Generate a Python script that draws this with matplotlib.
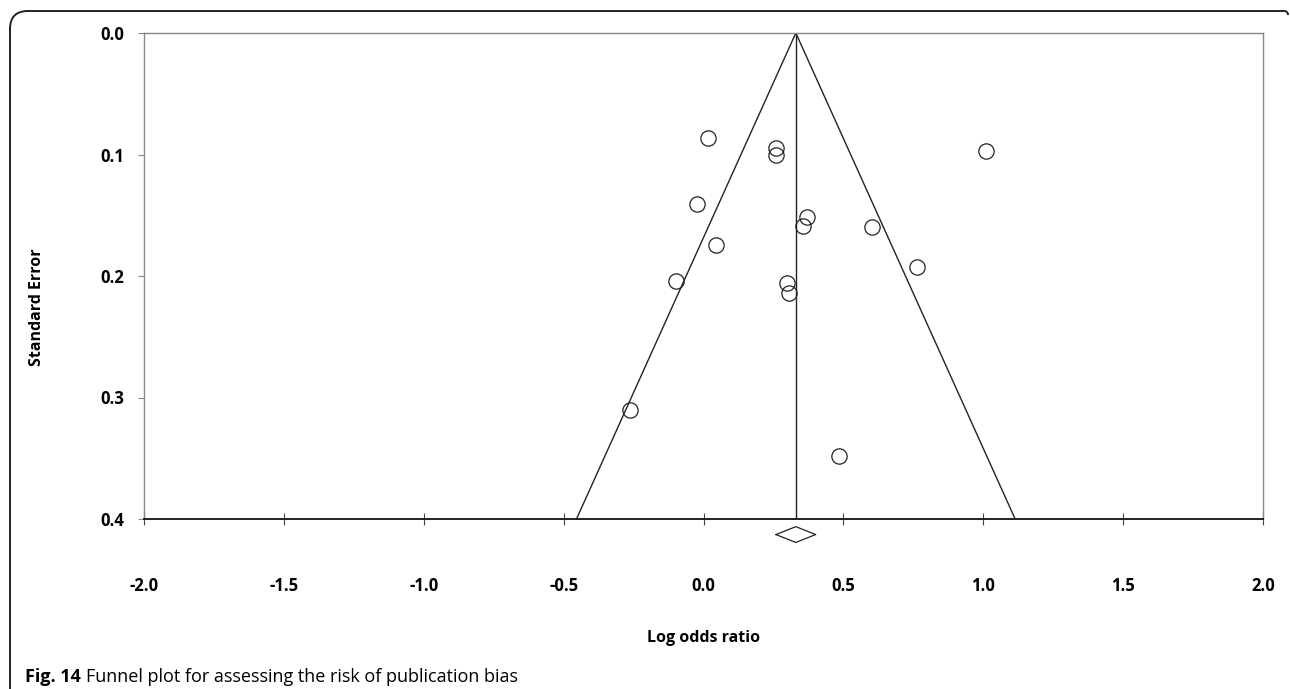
"""
Funnel plot for assessing the risk of publication bias
"""

import matplotlib.pyplot as plt
from matplotlib.path import Path
from matplotlib.patches import PathPatch

# Study estimates
log_or = [0.017, 0.259, 0.259, -0.023, 0.046, 0.369, 0.355, 0.602,
          -0.097, 0.297, 0.305, 0.762, 1.009, -0.264, 0.485]
std_err = [0.0862, 0.0949, 0.1004, 0.141, 0.1745, 0.1512, 0.1588, 0.1594,
           0.2039, 0.2055, 0.2137, 0.1928, 0.0971, 0.3103, 0.3479]

pooled = 0.33
pooled_ci = [0.259, 0.401]
x_ticks = [-2.0, -1.5, -1.0, -0.5, 0.0, 0.5, 1.0, 1.5, 2.0]
y_ticks = [0.0, 0.1, 0.2, 0.3, 0.4]

plt.rcParams['font.family'] = ['Open Sans', 'DejaVu Sans']

fig = plt.figure(figsize=(12.9, 6.89), dpi=100)
ax = fig.add_axes([144 / 1290, 1 - 519 / 689, (1263 - 144) / 1290, (519 - 33) / 689])

# Funnel and pooled-estimate line
se_max = 0.4
ax.plot([pooled - 1.96 * se_max, pooled, pooled + 1.96 * se_max], [se_max, 0, se_max],
        color='#222222', lw=1.0)
ax.plot([pooled, pooled], [0, se_max], color='#222222', lw=1.0)

# Studies
ax.plot(log_or, std_err, 'o', ms=11, mfc='none', mec='#222222', mew=0.9)

# Pooled diamond below the axis
dx = [pooled_ci[0], pooled, pooled_ci[1], pooled, pooled_ci[0]]
dy = [0.4128, 0.4063, 0.4128, 0.4193, 0.4128]
ax.plot(dx, dy, color='#222222', lw=0.9, clip_on=False)

ax.set_xlim(-2.0, 2.0)
ax.set_ylim(0.4, 0.0)
ax.set_xticks(x_ticks)
ax.set_xticklabels([f'{v:.1f}' for v in x_ticks], fontsize=12, fontweight='bold')
ax.set_yticks(y_ticks)
ax.set_yticklabels([f'{v:.1f}' for v in y_ticks], fontsize=12, fontweight='bold')
ax.tick_params(axis='x', direction='inout', length=8, width=0.8, color='#444444', pad=38)
ax.tick_params(axis='y', direction='out', length=4, width=0.8, color='#888888', pad=10)

for side in ['top', 'left', 'right']:
    ax.spines[side].set_color('#888888')
    ax.spines[side].set_linewidth(1.0)
ax.spines['bottom'].set_color('#111111')
ax.spines['bottom'].set_linewidth(1.3)

fig.text(703.5 / 1290, 1 - 638 / 689, 'Log odds ratio', ha='center', va='center',
         fontsize=11.5, fontweight='bold')
fig.text(37 / 1290, 1 - 307 / 689, 'Standard Error', ha='center', va='center',
         rotation=90, fontsize=11.5, fontweight='bold')

# Caption
cap = fig.text(25 / 1290, 1 - 677 / 689, 'Fig. 14', ha='left', va='center',
               fontsize=13, fontweight='bold')
fig.canvas.draw()
bb = cap.get_window_extent()
fig.text((bb.x1 + 5) / 1290, 1 - 677 / 689,
         'Funnel plot for assessing the risk of publication bias',
         ha='left', va='center', fontsize=13)

# Rounded frame (left and top edges)
W, H = 1290, 689
r = 18
verts = [(10 / W, 0), (10 / W, (H - 11 - r) / H), (10 / W, (H - 11) / H),
         ((10 + r) / W, (H - 11) / H), (1284 / W, (H - 11) / H),
         (1288 / W, (H - 11) / H), (1288 / W, (H - 15) / H)]
codes = [Path.MOVETO, Path.LINETO, Path.CURVE3, Path.CURVE3, Path.LINETO,
         Path.CURVE3, Path.CURVE3]
fig.patches.append(PathPatch(Path(verts, codes), transform=fig.transFigure,
                             fill=False, lw=1.4, ec='#222222'))

plt.savefig('out.png', dpi=100)
